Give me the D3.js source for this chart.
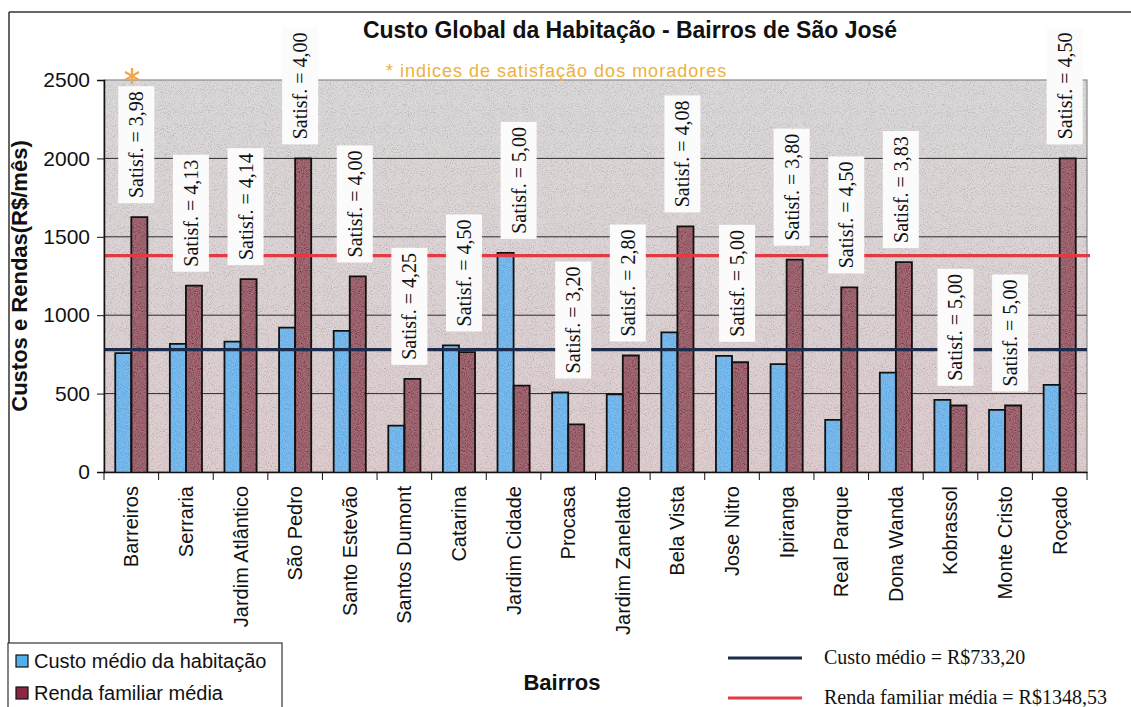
<!DOCTYPE html>
<html>
<head>
<meta charset="utf-8">
<script src="https://cdn.jsdelivr.net/npm/d3@7"></script>
<style>
  html, body { margin: 0; padding: 0; background: #ffffff; }
  svg { display: block; }
</style>
</head>
<body>
<svg id="chart" width="1131" height="707"></svg>
<script>
// bairros e valores
var bairros = ["Barreiros", "Serraria", "Jardim Atlântico", "São Pedro", "Santo Estevão",
    "Santos Dumont", "Catarina", "Jardim Cidade", "Procasa", "Jardim Zanelatto", "Bela Vista",
    "Jose Nitro", "Ipiranga", "Real Parque", "Dona Wanda", "Kobrassol", "Monte Cristo", "Roçado"];
var custoMedio = [758, 817, 832, 921, 900, 296, 807, 1397, 507, 496, 890, 741, 688, 332, 634, 460, 396, 556];
var rendaMedia = [1625, 1188, 1230, 2000, 1247, 594, 764, 551, 304, 743, 1566, 700, 1354, 1177, 1339, 424, 424, 2000];
var satisfacao = ["3,98", "4,13", "4,14", "4,00", "4,00", "4,25", "4,50", "5,00", "3,20", "2,80",
    "4,08", "5,00", "3,80", "4,50", "3,83", "5,00", "5,00", "4,50"];
var yTicks = [0, 500, 1000, 1500, 2000, 2500];
var series = ["Custo médio da habitação", "Renda familiar média"];
var mediaNomes = ["Custo médio = R$733,20", "Renda familiar média = R$1348,53"];
var mediaValores = [780, 1380]; // onde as linhas aparecem no grafico

var svg = d3.select("#chart");
var plotLeft = 104, plotRight = 1087, plotTop = 80, plotBottom = 472;
var colors = ["#52afec", "#8a2844"];
var lineColors = ["#1c2c4c", "#e23a44"];

var x = d3.scaleBand().domain(bairros).range([plotLeft, plotRight]).padding(0);
var xs = d3.scaleBand().domain([0, 1]).range([0, x.bandwidth()]).paddingInner(0).paddingOuter(0.7);
var y = d3.scaleLinear().domain([0, 2500]).range([plotBottom, plotTop]);

// texturas
var defs = svg.append("defs");
var grad = defs.append("linearGradient").attr("id", "bg").attr("x1", 0).attr("y1", 0).attr("x2", 0).attr("y2", 1);
grad.append("stop").attr("offset", "0%").attr("stop-color", "#cbc7c8");
grad.append("stop").attr("offset", "50%").attr("stop-color", "#cdbfc1");
grad.append("stop").attr("offset", "100%").attr("stop-color", "#d0b5b8");

function grainFilter(id, alpha, offset) {
    // granulado tipo granito
    var f = defs.append("filter").attr("id", id).attr("x", 0).attr("y", 0).attr("width", 1).attr("height", 1);
    f.append("feTurbulence").attr("type", "fractalNoise").attr("baseFrequency", 0.95)
        .attr("numOctaves", 2).attr("seed", 4).attr("result", "noise");
    var o = -offset;
    f.append("feColorMatrix").attr("in", "noise").attr("type", "matrix")
        .attr("values", "1.1 1.1 1.1 0 " + o + "  1.1 1.1 1.1 0 " + o + "  1.1 1.1 1.1 0 " + o + "  0 0 0 0 " + alpha)
        .attr("result", "gray");
    f.append("feComposite").attr("in", "gray").attr("in2", "SourceAlpha").attr("operator", "in").attr("result", "speck");
    var m = f.append("feMerge");
    m.append("feMergeNode").attr("in", "SourceGraphic");
    m.append("feMergeNode").attr("in", "speck");
}
grainFilter("grain", 0.3, 0.75);
grainFilter("grainBar", 0.15, 0.95);

// moldura externa
svg.append("line").attr("x1", 9).attr("x2", 1131).attr("y1", 12).attr("y2", 12)
    .attr("stroke", "#333").attr("stroke-width", 1.5);
svg.append("line").attr("x1", 9).attr("x2", 9).attr("y1", 12).attr("y2", 707)
    .attr("stroke", "#333").attr("stroke-width", 1.5);

// fundo da area do grafico
svg.append("rect").attr("x", plotLeft).attr("y", plotTop).attr("width", plotRight - plotLeft).attr("height", plotBottom - plotTop)
    .attr("fill", "url(#bg)").attr("filter", "url(#grain)");
svg.append("rect").attr("x", plotLeft).attr("y", plotTop).attr("width", plotRight - plotLeft).attr("height", plotBottom - plotTop)
    .attr("fill", "none").attr("stroke", "#8a8a8a").attr("stroke-width", 1.2);

// grade
svg.append("g").selectAll("line").data(yTicks.slice(1, -1)).join("line")
    .attr("x1", plotLeft).attr("x2", plotRight).attr("y1", d => y(d)).attr("y2", d => y(d))
    .attr("stroke", "#2a2a2a").attr("stroke-width", 1);

// barras
var groups = svg.append("g").selectAll("g").data(bairros).join("g")
    .attr("transform", d => "translate(" + x(d) + ",0)");
groups.selectAll("rect").data((d, i) => [custoMedio[i], rendaMedia[i]]).join("rect")
    .attr("x", (d, j) => xs(j)).attr("width", xs.bandwidth())
    .attr("y", d => y(d)).attr("height", d => plotBottom - y(d))
    .attr("fill", (d, j) => colors[j]).attr("filter", "url(#grainBar)");
groups.selectAll("path").data((d, i) => [custoMedio[i], rendaMedia[i]]).join("path")
    .attr("d", (d, j) => "M" + xs(j) + "," + plotBottom + "V" + y(d) + "H" + (xs(j) + xs.bandwidth()) + "V" + plotBottom)
    .attr("fill", "none").attr("stroke", "#111").attr("stroke-width", 1.8);

// linhas de media
svg.append("g").selectAll("line").data(mediaValores).join("line")
    .attr("x1", plotLeft).attr("x2", (d, i) => i ? plotRight + 3 : plotRight)
    .attr("y1", d => y(d)).attr("y2", d => y(d))
    .attr("stroke", (d, i) => lineColors[i]).attr("stroke-width", 3.2);

// caixas de satisfacao
var boxW = 36, boxH = 117;
var labels = svg.append("g").selectAll("g").data(bairros).join("g")
    .attr("transform", (d, i) => {
        var cx = x(d) + x.bandwidth() / 2 + 5;
        var by = y(Math.max(custoMedio[i], rendaMedia[i])) - 14;
        return "translate(" + cx + "," + (by - boxH / 2) + ")";
    });
labels.append("rect").attr("x", -boxW / 2).attr("y", -boxH / 2).attr("width", boxW).attr("height", boxH)
    .attr("fill", "#fbfbfb");
labels.append("text").attr("transform", "rotate(-90)").attr("text-anchor", "middle").attr("dy", "0.35em")
    .style("font-family", "'Liberation Serif', 'Times New Roman', serif").style("font-size", "20px")
    .attr("fill", "#111").text((d, i) => "Satisf. = " + satisfacao[i]);

// eixo y
var yAxis = svg.append("g").attr("transform", "translate(" + plotLeft + ",0)")
    .call(d3.axisLeft(y).tickValues(yTicks).tickFormat(d3.format("d")).tickSize(7).tickPadding(7));
yAxis.select(".domain").attr("stroke", "#111").attr("stroke-width", 1.5);
yAxis.selectAll(".tick line").attr("stroke", "#111");
yAxis.selectAll("text").style("font-family", "'Liberation Sans', Arial, sans-serif")
    .style("font-size", "21px").attr("fill", "#111");

// eixo x
var xAxis = svg.append("g").attr("transform", "translate(0," + plotBottom + ")")
    .call(d3.axisBottom(x).tickSize(0).tickPadding(0));
xAxis.select(".domain").attr("stroke", "#111").attr("stroke-width", 1.5);
xAxis.selectAll("text").attr("transform", "rotate(-90)").attr("text-anchor", "end")
    .attr("x", -14).attr("y", 0).attr("dy", "0.35em")
    .style("font-family", "'Liberation Sans', Arial, sans-serif").style("font-size", "20px").attr("fill", "#111");
svg.append("g").selectAll("line").data(bairros.map(d => x(d)).concat([plotRight])).join("line")
    .attr("x1", d => d).attr("x2", d => d).attr("y1", plotBottom).attr("y2", plotBottom + 8)
    .attr("stroke", "#111").attr("stroke-width", 1);

// titulos
svg.append("text").attr("x", 630).attr("y", 38).attr("text-anchor", "middle")
    .style("font-family", "'Liberation Sans', Arial, sans-serif").style("font-weight", "bold")
    .style("font-size", "23px").attr("fill", "#111").text("Custo Global da Habitação - Bairros de São José");
svg.append("text").attr("x", 386).attr("y", 77)
    .style("font-family", "'Liberation Sans', Arial, sans-serif").style("font-size", "18px")
    .style("letter-spacing", "1px").attr("fill", "#eeb13c").text("* indices de satisfação dos moradores");
svg.append("path").attr("transform", "translate(132,76)")
    .attr("d", d3.symbol(d3.symbolAsterisk, 180)())
    .attr("fill", "none").attr("stroke", "#f2a64a").attr("stroke-width", 2.4);

svg.append("text").attr("transform", "translate(27," + ((plotTop + plotBottom) / 2) + ") rotate(-90)")
    .attr("text-anchor", "middle")
    .style("font-family", "'Liberation Sans', Arial, sans-serif").style("font-weight", "bold")
    .style("font-size", "22px").attr("fill", "#111").text("Custos e Rendas(R$/mês)");
svg.append("text").attr("x", 562).attr("y", 690).attr("text-anchor", "middle")
    .style("font-family", "'Liberation Sans', Arial, sans-serif").style("font-weight", "bold")
    .style("font-size", "22px").attr("fill", "#111").text("Bairros");

// legenda das series
svg.append("rect").attr("x", 8).attr("y", 643).attr("width", 274).attr("height", 80)
    .attr("fill", "#fff").attr("stroke", "#333").attr("stroke-width", 1.2);
var leg = svg.append("g").selectAll("g").data(series).join("g")
    .attr("transform", (d, i) => "translate(16," + (668 + i * 32) + ")");
leg.append("rect").attr("x", 0).attr("y", -13).attr("width", 12).attr("height", 12)
    .attr("fill", (d, i) => colors[i]).attr("stroke", "#111").attr("stroke-width", 1.2);
leg.append("text").attr("x", 18).attr("y", 0)
    .style("font-family", "'Liberation Sans', Arial, sans-serif").style("font-size", "20px")
    .attr("fill", "#111").text(d => d);

// legenda das medias
var legM = svg.append("g").selectAll("g").data(mediaNomes).join("g")
    .attr("transform", (d, i) => "translate(728," + (658 + i * 40) + ")");
legM.append("line").attr("x1", 0).attr("x2", 74).attr("y1", 0).attr("y2", 0)
    .attr("stroke", (d, i) => lineColors[i]).attr("stroke-width", 3);
legM.append("text").attr("x", 96).attr("y", 6)
    .style("font-family", "'Liberation Serif', 'Times New Roman', serif").style("font-size", "20px")
    .attr("fill", "#111").text(d => d);
</script>
</body>
</html>
